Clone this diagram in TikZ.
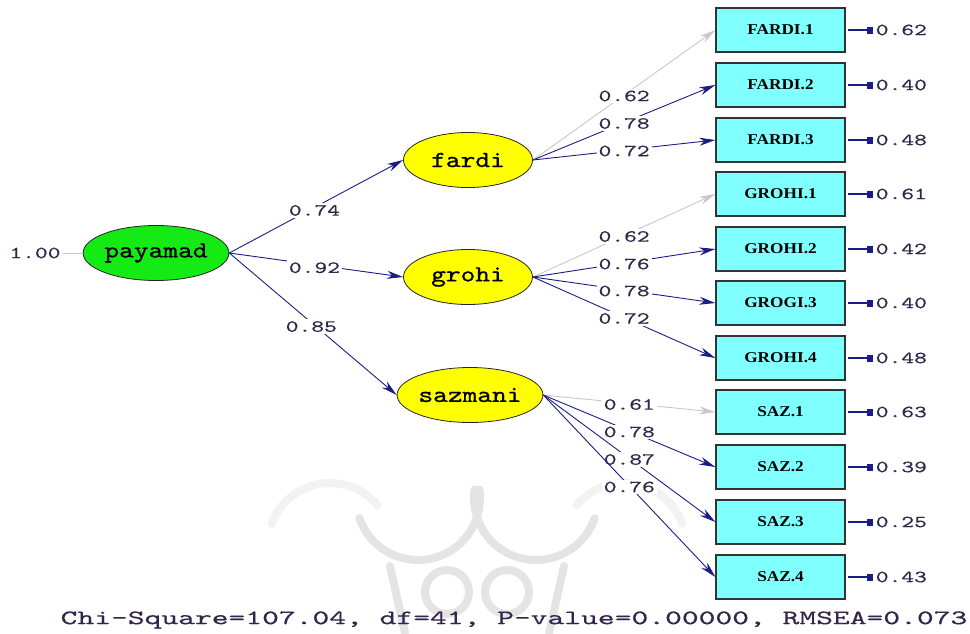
\documentclass[tikz,border=0pt]{standalone}
\usepackage{fontspec}
\usetikzlibrary{arrows.meta,shapes.geometric}
\newfontfamily\ellf[FakeStretch=1.22,FakeBold=0.8]{lmmono10-regular.otf}
\newfontfamily\numf[FakeStretch=1.43,FakeBold=0.4]{lmmono10-regular.otf}
\newfontfamily\fitf[FakeStretch=1.56,FakeBold=0.4]{lmmono10-regular.otf}
\newfontfamily\lserif[FakeStretch=1.15]{Liberation Serif}
\definecolor{navy}{RGB}{28,28,135}
\definecolor{fixg}{RGB}{200,200,200}
\definecolor{lgreen}{RGB}{20,235,20}
\definecolor{lyellow}{RGB}{255,255,0}
\definecolor{lcyan}{RGB}{128,255,255}
\definecolor{numcol}{RGB}{50,38,75}
\definecolor{wmcol}{RGB}{228,228,228}
\definecolor{wmcol2}{RGB}{242,242,242}
\tikzset{
  lat/.style={ellipse, draw=black!85, line width=0.8pt, fill=lyellow,
    minimum width=129pt, minimum height=55pt, inner sep=0pt,
    font=\ellf\fontsize{23}{23}\selectfont},
  obs/.style={rectangle, draw=black!80, line width=1.3pt, fill=lcyan,
    minimum width=129pt, minimum height=44pt, inner sep=0pt,
    font=\lserif\bfseries\fontsize{15}{15}\selectfont},
  numtxt/.style={text=numcol, font=\numf\fontsize{17}{17}\selectfont, inner sep=2pt},
  lab/.style={numtxt, fill=white, inner sep=2pt, pos=0.5},
  pathn/.style={draw=navy, line width=0.9pt, -{Stealth[length=16pt,width=8pt,inset=5pt]}},
  fixp/.style={draw=fixg, line width=0.9pt, -{Stealth[length=16pt,width=8pt,inset=5pt]}},
  errp/.style={draw=navy, line width=1.7pt, -{Rectangle[length=6pt,width=7pt]}},
  wm/.style={draw=wmcol, line width=8pt, line cap=round},
  wmf/.style={draw=wmcol2, line width=8pt, line cap=round},
}
\begin{document}
\begin{tikzpicture}[x=1pt,y=-1pt]
\useasboundingbox (0,0) rectangle (970,633);
% faint watermark
\draw[wmf] (330,545) ++(200:62) arc[start angle=200, end angle=320, radius=62];
\draw[wmf] (624,545) ++(-20:62) arc[start angle=-20, end angle=-140, radius=62];
\draw[wm] (418,498) ++(-8:62) arc[start angle=-8, end angle=161, radius=62];
\draw[wm] (536,498) ++(188:62) arc[start angle=188, end angle=19, radius=62];
\draw[wm] (447,592) circle[radius=22];
\draw[wm] (507,592) circle[radius=22];
\draw[wm] (390,566) -- (405,633);
\draw[wm] (564,566) -- (549,633);
% latent variables
\node[lat, fill=lgreen] (pay) at (156,253) {payamad};
\node[lat] (far) at (468,160) {fardi};
\node[lat] (gro) at (468,277) {grohi};
\node[lat] (saz) at (470,395) {sazmani};
% observed variables
\node[obs] (f1) at (780.5,30) {FARDI.1};
\node[obs] (f2) at (780.5,85) {FARDI.2};
\node[obs] (f3) at (780.5,140) {FARDI.3};
\node[obs] (g1) at (780.5,194) {GROHI.1};
\node[obs] (g2) at (780.5,249) {GROHI.2};
\node[obs] (g3) at (780.5,303) {GROGI.3};
\node[obs] (g4) at (780.5,358) {GROHI.4};
\node[obs] (s1) at (780.5,412) {SAZ.1};
\node[obs] (s2) at (780.5,467) {SAZ.2};
\node[obs] (s3) at (780.5,522) {SAZ.3};
\node[obs] (s4) at (780.5,577) {SAZ.4};
% variance of payamad
\node[numtxt] (one) at (35,253) {1.00};
\draw[draw=fixg, line width=0.9pt] (one.east) -- (pay.west);
% structural paths
\draw[pathn] (pay.east) -- node[lab, pos=0.49, yshift=-3pt] (la1) {0.74} (far.west);
\draw[pathn] (pay.east) -- node[lab, pos=0.49, yshift=-3pt] (la2) {0.92} (gro.west);
\draw[pathn] (pay.east) -- node[lab, pos=0.49, yshift=-4pt] (la3) {0.85} (saz.west);
% loadings
\draw[fixp]  (far.east) -- node[lab, yshift=-1pt] (lf1) {0.62} (f1.west);
\draw[pathn] (far.east) -- node[lab, yshift=-1pt] (lf2) {0.78} (f2.west);
\draw[pathn] (far.east) -- node[lab, yshift=-1pt] (lf3) {0.72} (f3.west);
\draw[fixp]  (gro.east) -- node[lab, yshift=-1pt] (lg1) {0.62} (g1.west);
\draw[pathn] (gro.east) -- node[lab, yshift=-1pt] (lg2) {0.76} (g2.west);
\draw[pathn] (gro.east) -- node[lab, yshift=-1pt] (lg3) {0.78} (g3.west);
\draw[pathn] (gro.east) -- node[lab, yshift=-1pt] (lg4) {0.72} (g4.west);
\draw[fixp]  (saz.east) -- node[lab, yshift=-1pt] (ls1) {0.61} (s1.west);
\draw[pathn] (saz.east) -- node[lab, yshift=-1pt] (ls2) {0.78} (s2.west);
\draw[pathn] (saz.east) -- node[lab, yshift=-1pt] (ls3) {0.87} (s3.west);
\draw[pathn] (saz.east) -- node[lab, yshift=-1pt] (ls4) {0.76} (s4.west);
% error variances
\foreach \b/\v in {f1/0.62,f2/0.40,f3/0.48,g1/0.61,g2/0.42,g3/0.40,g4/0.48,s1/0.63,s2/0.39,s3/0.25,s4/0.43}{
  \coordinate (e\b) at ([xshift=27pt]\b.east);
  \draw[errp] ([xshift=2pt]\b.east) -- (e\b);
  \node[numtxt, anchor=west] (n\b) at ([xshift=1pt]e\b) {\v};
}
% fit statistics
\node[text=numcol, font=\fitf\fontsize{20.5}{20.5}\selectfont, inner sep=0pt] (fit) at (514,620)
  {Chi-Square=107.04, df=41, P-value=0.00000, RMSEA=0.073};
\end{tikzpicture}
\end{document}
